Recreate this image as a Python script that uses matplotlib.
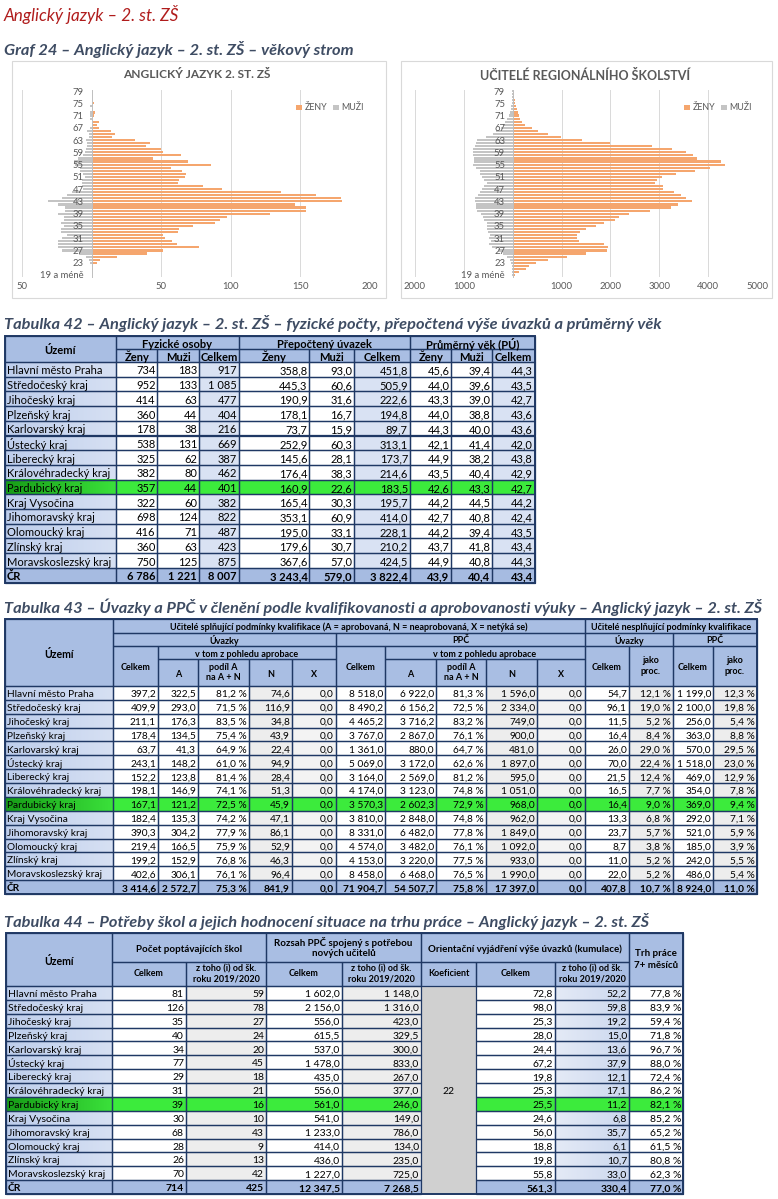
import matplotlib
matplotlib.use('Agg')
import matplotlib.pyplot as plt
from matplotlib.patches import Rectangle, Patch
from matplotlib.colors import to_rgb
import numpy as np

plt.rcParams['font.family'] = ['Lato', 'DejaVu Sans']

# ---------------- DATA ----------------
age_labels = ["19 a méně", "20", "21", "22", "23", "24", "25", "26", "27", "28", "29",
              "30", "31", "32", "33", "34", "35", "36", "37", "38", "39",
              "40", "41", "42", "43", "44", "45", "46", "47", "48", "49",
              "50", "51", "52", "53", "54", "55", "56", "57", "58", "59",
              "60", "61", "62", "63", "64", "65", "66", "67", "68", "69",
              "70", "71", "72", "73", "74", "75", "76", "77", "78", "79"]

aj_zeny = [0, 0, 1, 1, 4, 6, 18, 40, 51, 77, 61,
           58, 53, 51, 62, 63, 73, 89, 92, 97, 128,
           154, 154, 146, 180, 179, 161, 136, 94, 80, 62,
           63, 67, 68, 65, 57, 86, 69, 44, 64, 51,
           50, 39, 42, 31, 15, 17, 14, 5.5, 4, 5,
           1, 2, 2.5, 1, 1, 1.5, 0, 0, 0.5, 0.5]
aj_muzi = [0, 0, 0, 0, 1, 2, 4, 9, 21, 24, 24,
           24, 21, 18, 22, 22, 20, 22, 20, 20, 24,
           19, 19, 24, 31, 21, 18, 14, 6, 7, 7,
           7, 5, 6, 8, 8, 12, 13, 10, 6, 5,
           4, 3, 3, 4, 2, 2, 3, 1, 0, 0,
           1, 1, 1, 0, 1, 0, 0, 0, 0, 0]

rs_zeny = [55, 120, 270, 340, 480, 730, 1110, 1490, 1920, 1950, 1860,
           1350, 1320, 1320, 1380, 1490, 1710, 1860, 2100, 2180, 2390,
           2810, 3230, 3380, 3660, 3540, 3440, 3310, 3080, 3080, 2920,
           2960, 3060, 3340, 3730, 4040, 4340, 4260, 3780, 3700, 3540,
           3250, 2860, 2000, 1420, 990, 730, 520, 390, 250, 190,
           150, 120, 100, 80, 70, 55, 50, 30, 20, 10]
rs_muzi = [5, 5, 5, 15, 35, 55, 120, 200, 300, 420, 490,
           450, 480, 470, 510, 520, 520, 530, 590, 600, 640,
           730, 750, 750, 770, 770, 710, 670, 620, 580, 530,
           580, 620, 660, 670, 760, 810, 790, 790, 810, 810,
           810, 770, 750, 730, 550, 400, 340, 230, 190, 150,
           110, 75, 55, 40, 30, 20, 15, 10, 5, 5]

regions = ["Hlavní město Praha", "Středočeský kraj", "Jihočeský kraj", "Plzeňský kraj",
           "Karlovarský kraj", "Ústecký kraj", "Liberecký kraj", "Královéhradecký kraj",
           "Pardubický kraj", "Kraj Vysočina", "Jihomoravský kraj", "Olomoucký kraj",
           "Zlínský kraj", "Moravskoslezský kraj", "ČR"]
highlight = "Pardubický kraj"

# Tabulka 42
fyz_zeny = [734, 952, 414, 360, 178, 538, 325, 382, 357, 322, 698, 416, 360, 750, 6786]
fyz_muzi = [183, 133, 63, 44, 38, 131, 62, 80, 44, 60, 124, 71, 63, 125, 1221]
fyz_celkem = [917, 1085, 477, 404, 216, 669, 387, 462, 401, 382, 822, 487, 423, 875, 8007]
pu_zeny = [358.8, 445.3, 190.9, 178.1, 73.7, 252.9, 145.6, 176.4, 160.9, 165.4, 353.1, 195.0, 179.6, 367.6, 3243.4]
pu_muzi = [93.0, 60.6, 31.6, 16.7, 15.9, 60.3, 28.1, 38.3, 22.6, 30.3, 60.9, 33.1, 30.7, 57.0, 579.0]
pu_celkem = [451.8, 505.9, 222.6, 194.8, 89.7, 313.1, 173.7, 214.6, 183.5, 195.7, 414.0, 228.1, 210.2, 424.5, 3822.4]
vek_zeny = [45.6, 44.0, 43.3, 44.0, 44.3, 42.1, 44.9, 43.5, 42.6, 44.2, 42.7, 44.2, 43.7, 44.9, 43.9]
vek_muzi = [39.4, 39.6, 39.0, 38.8, 40.0, 41.4, 38.2, 40.4, 43.3, 44.5, 40.8, 39.4, 41.8, 40.8, 40.4]
vek_celkem = [44.3, 43.5, 42.7, 43.6, 43.6, 42.0, 43.8, 42.9, 42.7, 44.2, 42.4, 43.5, 43.4, 44.3, 43.4]

# Tabulka 43
uv_celkem = [397.2, 409.9, 211.1, 178.4, 63.7, 243.1, 152.2, 198.1, 167.1, 182.4, 390.3, 219.4, 199.2, 402.6, 3414.6]
uv_a = [322.5, 293.0, 176.3, 134.5, 41.3, 148.2, 123.8, 146.9, 121.2, 135.3, 304.2, 166.5, 152.9, 306.1, 2572.7]
uv_podil = [81.2, 71.5, 83.5, 75.4, 64.9, 61.0, 81.4, 74.1, 72.5, 74.2, 77.9, 75.9, 76.8, 76.1, 75.3]
uv_n = [74.6, 116.9, 34.8, 43.9, 22.4, 94.9, 28.4, 51.3, 45.9, 47.1, 86.1, 52.9, 46.3, 96.4, 841.9]
uv_x = [0.0, 0.0, 0.0, 0.0, 0.0, 0.0, 0.0, 0.0, 0.0, 0.0, 0.0, 0.0, 0.0, 0.0, 0.0]
ppc_celkem = [8518.0, 8490.2, 4465.2, 3767.0, 1361.0, 5069.0, 3164.0, 4174.0, 3570.3, 3810.0, 8331.0, 4574.0, 4153.0, 8458.0, 71904.7]
ppc_a = [6922.0, 6156.2, 3716.2, 2867.0, 880.0, 3172.0, 2569.0, 3123.0, 2602.3, 2848.0, 6482.0, 3482.0, 3220.0, 6468.0, 54507.7]
ppc_podil = [81.3, 72.5, 83.2, 76.1, 64.7, 62.6, 81.2, 74.8, 72.9, 74.8, 77.8, 76.1, 77.5, 76.5, 75.8]
ppc_n = [1596.0, 2334.0, 749.0, 900.0, 481.0, 1897.0, 595.0, 1051.0, 968.0, 962.0, 1849.0, 1092.0, 933.0, 1990.0, 17397.0]
ppc_x = [0.0, 0.0, 0.0, 0.0, 0.0, 0.0, 0.0, 0.0, 0.0, 0.0, 0.0, 0.0, 0.0, 0.0, 0.0]
nk_uv = [54.7, 96.1, 11.5, 16.4, 26.0, 70.0, 21.5, 16.5, 16.4, 13.3, 23.7, 8.7, 11.0, 22.0, 407.8]
nk_uv_proc = [12.1, 19.0, 5.2, 8.4, 29.0, 22.4, 12.4, 7.7, 9.0, 6.8, 5.7, 3.8, 5.2, 5.2, 10.7]
nk_ppc = [1199.0, 2100.0, 256.0, 363.0, 570.0, 1518.0, 469.0, 354.0, 369.0, 292.0, 521.0, 185.0, 242.0, 486.0, 8924.0]
nk_ppc_proc = [12.3, 19.8, 5.4, 8.8, 29.5, 23.0, 12.9, 7.8, 9.4, 7.1, 5.9, 3.9, 5.5, 5.4, 11.0]

# Tabulka 44
skoly = [81, 126, 35, 40, 34, 77, 29, 31, 39, 30, 68, 28, 26, 70, 714]
skoly_od = [59, 78, 27, 24, 20, 45, 18, 21, 16, 10, 43, 9, 13, 42, 425]
ppc_potr = [1602.0, 2156.0, 556.0, 615.5, 537.0, 1478.0, 435.0, 556.0, 561.0, 541.0, 1233.0, 414.0, 436.0, 1227.0, 12347.5]
ppc_potr_od = [1148.0, 1316.0, 423.0, 329.5, 300.0, 833.0, 267.0, 377.0, 246.0, 149.0, 786.0, 134.0, 235.0, 725.0, 7268.5]
koeficient = 22
uv_kum = [72.8, 98.0, 25.3, 28.0, 24.4, 67.2, 19.8, 25.3, 25.5, 24.6, 56.0, 18.8, 19.8, 55.8, 561.3]
uv_kum_od = [52.2, 59.8, 19.2, 15.0, 13.6, 37.9, 12.1, 17.1, 11.2, 6.8, 35.7, 6.1, 10.7, 33.0, 330.4]
trh_prace = [77.8, 83.9, 59.4, 71.8, 96.7, 88.0, 72.4, 86.2, 82.1, 85.2, 65.2, 61.5, 80.8, 62.3, 77.0]

# ---------------- STYLE ----------------
W, H = 778, 1199
ORANGE = '#F5A66E'
GREY_BAR = '#C4C4C4'
NAVY = '#1F3864'
HDR = '#A9BEE3'
TOTAL = '#A6BBE1'
REG = ('#BECEEC', '#D6E0F3')
CELK = '#D9E2F3'
LGREY = '#EDEDED'
KOEF = '#D0D0D0'
GREEN = '#3CEB3C'
GREEN_REG = ('#179E17', '#3AE03A')
TITLE_C = '#3E4C63'
TXT_GREY = '#595959'

fig = plt.figure(figsize=(W / 100, H / 100), dpi=100)
page = fig.add_axes([0, 0, 1, 1])
page.set_xlim(0, W)
page.set_ylim(H, 0)
page.axis('off')


def fmt(v, d):
    s = f"{v:,.{d}f}"
    return s.replace(',', ' ').replace('.', ',')


def pct(v):
    return fmt(v, 1) + ' %'


def grad_rect(x0, x1, y0, y1, c0, c1, z=1):
    a = np.array(to_rgb(c0))
    b = np.array(to_rgb(c1))
    t = np.linspace(0, 1, 32)[None, :, None]
    img = a[None, None, :] * (1 - t) + b[None, None, :] * t
    page.imshow(img, extent=(x0, x1, y1, y0), aspect='auto',
                interpolation='bilinear', zorder=z)


def cell(x0, x1, y0, y1, text='', fc='white', ha='right', bold=False, fs=7.0,
         border=True, lw=0.9, color='black', ls=1.0, multi=False):
    if isinstance(fc, tuple):
        grad_rect(x0, x1, y0, y1, fc[0], fc[1])
    elif fc is not None:
        page.add_patch(Rectangle((x0, y0), x1 - x0, y1 - y0, facecolor=fc,
                                 edgecolor='none', zorder=1))
    if border:
        page.add_patch(Rectangle((x0, y0), x1 - x0, y1 - y0, fill=False,
                                 edgecolor=NAVY, lw=lw, zorder=2))
    if text != '':
        if ha == 'right':
            tx = x1 - 2
        elif ha == 'left':
            tx = x0 + 2
        else:
            tx = (x0 + x1) / 2
        page.text(tx, (y0 + y1) / 2 + (0 if multi else 0.6), text, ha=ha,
                  va='center' if multi else 'center_baseline', fontsize=fs,
                  fontweight='bold' if bold else 'normal', color=color,
                  zorder=3, linespacing=ls)


def outer(x0, x1, y0, y1):
    page.add_patch(Rectangle((x0, y0), x1 - x0, y1 - y0, fill=False,
                             edgecolor=NAVY, lw=1.4, zorder=2.5))


# ---------------- PAGE TITLES ----------------
page.text(4, 15, "Anglický jazyk – 2. st. ZŠ", fontsize=12.3, style='italic',
          color='#B01C1C', va='center', ha='left')
page.text(4, 50, "Graf 24 – Anglický jazyk – 2. st. ZŠ – věkový strom", fontsize=11.8,
          style='italic', fontweight='bold', color=TITLE_C, va='center', ha='left')


# ---------------- PYRAMIDS ----------------
def pyramid(frame, plot_x, title, title_x, title_fs, zeny, muzi, xmin, xmax, step, legend_x):
    fx0, fx1 = frame
    page.add_patch(Rectangle((fx0, 61), fx1 - fx0, 237, fill=False,
                             edgecolor='#D9D9D9', lw=0.8, zorder=1))
    page.text(title_x, 75, title, ha='center', va='center', fontsize=title_fs,
              fontweight='bold', color=TXT_GREY, zorder=3)
    px0, px1 = plot_x
    ytop, ybot = 89.5, 276.5
    ax = fig.add_axes([px0 / W, 1 - ybot / H, (px1 - px0) / W, (ybot - ytop) / H])
    ax.patch.set_alpha(0)
    y = np.arange(len(zeny))
    ticks = np.arange(xmin, xmax + step / 2, step)
    for t in ticks:
        if t != 0:
            ax.axvline(t, color='#D9D9D9', lw=0.7, zorder=0.5)
    ax.barh(y, zeny, height=0.7, color=ORANGE, zorder=1, label='ŽENY')
    ax.barh(y, -np.array(muzi), height=0.7, color=GREY_BAR, zorder=1, label='MUŽI')
    ax.set_xlim(xmin, xmax)
    ax.set_ylim(-0.5, len(zeny) - 0.5)
    ax.set_xticks(ticks)
    ax.set_xticklabels(['' if t == 0 else str(int(abs(t))) for t in ticks])
    for s in ['top', 'right', 'bottom']:
        ax.spines[s].set_visible(False)
    ax.spines['left'].set_position(('data', 0))
    ax.spines['left'].set_color('#BFBFBF')
    ax.spines['left'].set_linewidth(0.7)
    ax.set_yticks(y[::4])
    ax.set_yticklabels(age_labels[::4])
    ax.tick_params(axis='y', length=0, pad=5.5, labelsize=6.8, labelcolor=TXT_GREY)
    ax.tick_params(axis='x', length=0, pad=4, labelsize=6.8, labelcolor=TXT_GREY)
    handles = [Patch(facecolor=ORANGE, label='ŽENY'), Patch(facecolor=GREY_BAR, label='MUŽI')]
    fig.legend(handles=handles, loc='center left',
               bbox_to_anchor=(legend_x / W, 1 - 108 / H), ncol=2, frameon=False,
               fontsize=6.4, handlelength=0.6, handleheight=0.6, handletextpad=0.3,
               columnspacing=0.7, borderpad=0, labelcolor=TXT_GREY)
    return ax


pyramid((12, 386), (22, 370), "ANGLICKÝ JAZYK 2. ST. ZŠ", 197, 8.6, aj_zeny, aj_muzi,
        -50, 200, 50, 292)
pyramid((401, 772), (415, 757), "UČITELÉ REGIONÁLNÍHO ŠKOLSTVÍ", 585, 9.0, rs_zeny, rs_muzi,
        -2000, 5000, 1000, 680)


def table_title(y, text):
    page.text(4, y, text, fontsize=11.8, style='italic', fontweight='bold',
              color=TITLE_C, va='center', ha='left')


# ---------------- TABULKA 42 ----------------
table_title(324, "Tabulka 42 – Anglický jazyk – 2. st. ZŠ – fyzické počty, přepočtená výše úvazků a průměrný věk")
c42 = [5, 116, 157.5, 199, 239, 309.5, 354.5, 410, 451.5, 492.5, 535]
h0, h1, h2 = 336, 349, 362
rh = 14.7
fs42 = 8.0
fh42 = 8.0
cell(c42[0], c42[1], h0, h2, "Území", HDR, 'center', True, fh42)
for name, a, b in [("Fyzické osoby", 1, 4), ("Přepočtený úvazek", 4, 7), ("Průměrný věk (PÚ)", 7, 10)]:
    cell(c42[a], c42[b], h0, h1, name, HDR, 'center', True, fh42)
for k in range(9):
    cell(c42[k + 1], c42[k + 2], h1, h2, ["Ženy", "Muži", "Celkem"][k % 3], HDR, 'center', True, fh42)
cols42 = [(fyz_zeny, 0), (fyz_muzi, 0), (fyz_celkem, 0), (pu_zeny, 1), (pu_muzi, 1),
          (pu_celkem, 1), (vek_zeny, 1), (vek_muzi, 1), (vek_celkem, 1)]
for i, reg in enumerate(regions):
    y0 = h2 + i * rh
    y1 = y0 + rh
    tot = reg == "ČR"
    hl = reg == highlight
    cell(c42[0], c42[1], y0, y1, reg, TOTAL if tot else (GREEN_REG if hl else REG),
         'left', tot, fs42)
    for k, (vals, d) in enumerate(cols42):
        if tot:
            fc = TOTAL
        elif hl:
            fc = GREEN
        else:
            fc = CELK if k % 3 == 2 else 'white'
        cell(c42[k + 1], c42[k + 2], y0, y1, fmt(vals[i], d), fc, 'right', tot, fs42)
outer(c42[0], c42[-1], h0, h2 + len(regions) * rh)

# ---------------- TABULKA 43 ----------------
table_title(607, "Tabulka 43 – Úvazky a PPČ v členění podle kvalifikovanosti a aprobovanosti výuky – Anglický jazyk – 2. st. ZŠ")
c43 = [5, 113, 158, 198, 249, 292, 336, 385, 436, 486, 537, 585, 629, 673, 713, 757]
r43 = [619, 632.5, 646, 659, 686]
rh43 = 13.87
fs43 = 7.3
fh43 = 6.5
cell(c43[0], c43[1], r43[0], r43[4], "Území", HDR, 'center', True, 7.6)
cell(c43[1], c43[11], r43[0], r43[1],
     "Učitelé splňující podmínky kvalifikace (A = aprobovaná, N = neaprobovaná, X = netýká se)",
     HDR, 'center', True, fh43)
cell(c43[11], c43[15], r43[0], r43[1], "Učitelé nesplňující podmínky kvalifikace",
     HDR, 'center', True, fh43)
cell(c43[1], c43[6], r43[1], r43[2], "Úvazky", HDR, 'center', True, fh43)
cell(c43[6], c43[11], r43[1], r43[2], "PPČ", HDR, 'center', True, fh43)
cell(c43[11], c43[13], r43[1], r43[2], "Úvazky", HDR, 'center', True, fh43)
cell(c43[13], c43[15], r43[1], r43[2], "PPČ", HDR, 'center', True, fh43)
for base in (1, 6):
    cell(c43[base], c43[base + 1], r43[2], r43[4], "Celkem", HDR, 'center', True, fh43)
    cell(c43[base + 1], c43[base + 5], r43[2], r43[3], "v tom z pohledu aprobace", HDR, 'center', True, fh43)
    cell(c43[base + 1], c43[base + 2], r43[3], r43[4], "A", HDR, 'center', True, fh43)
    cell(c43[base + 2], c43[base + 3], r43[3], r43[4], "podíl A\nna A + N", HDR, 'center', True, fh43,
         ls=1.2, multi=True)
    cell(c43[base + 3], c43[base + 4], r43[3], r43[4], "N", HDR, 'center', True, fh43)
    cell(c43[base + 4], c43[base + 5], r43[3], r43[4], "X", HDR, 'center', True, fh43)
for base in (11, 13):
    cell(c43[base], c43[base + 1], r43[2], r43[4], "Celkem", HDR, 'center', True, fh43)
    cell(c43[base + 1], c43[base + 2], r43[2], r43[4], "jako\nproc.", HDR, 'center', True, fh43,
         ls=1.3, multi=True)
cols43 = [(uv_celkem, 'n', 'white'), (uv_a, 'n', 'white'), (uv_podil, 'p', 'white'),
          (uv_n, 'n', LGREY), (uv_x, 'n', '#F3F3F3'),
          (ppc_celkem, 'n', 'white'), (ppc_a, 'n', 'white'), (ppc_podil, 'p', 'white'),
          (ppc_n, 'n', LGREY), (ppc_x, 'n', '#F3F3F3'),
          (nk_uv, 'n', 'white'), (nk_uv_proc, 'p', LGREY),
          (nk_ppc, 'n', 'white'), (nk_ppc_proc, 'p', LGREY)]
for i, reg in enumerate(regions):
    y0 = r43[4] + i * rh43
    y1 = y0 + rh43
    tot = reg == "ČR"
    hl = reg == highlight
    cell(c43[0], c43[1], y0, y1, reg, TOTAL if tot else (GREEN_REG if hl else REG),
         'left', tot, fs43)
    for k, (vals, kind, bg) in enumerate(cols43):
        fc = TOTAL if tot else (GREEN if hl else bg)
        txt = pct(vals[i]) if kind == 'p' else fmt(vals[i], 1)
        cell(c43[k + 1], c43[k + 2], y0, y1, txt, fc, 'right', tot, fs43)
outer(c43[0], c43[-1], r43[0], r43[4] + len(regions) * rh43)

# ---------------- TABULKA 44 ----------------
table_title(921, "Tabulka 44 – Potřeby škol a jejich hodnocení situace na trhu práce – Anglický jazyk – 2. st. ZŠ")
c44 = [6, 112, 186, 266, 342, 421, 476, 555, 629, 683]
r44 = [933, 962, 986]
rh44 = 13.87
fs44 = 7.5
fh44 = 7.0
cell(c44[0], c44[1], r44[0], r44[2], "Území", HDR, 'center', True, 7.6)
cell(c44[1], c44[3], r44[0], r44[1], "Počet poptávajících škol", HDR, 'center', True, fh44)
cell(c44[3], c44[5], r44[0], r44[1], "Rozsah PPČ spojený s potřebou\nnových učitelů", HDR, 'center',
     True, fh44, ls=1.25, multi=True)
cell(c44[5], c44[8], r44[0], r44[1], "Orientační vyjádření výše úvazků (kumulace)", HDR, 'center',
     True, fh44)
cell(c44[8], c44[9], r44[0], r44[2], "Trh práce\n7+ měsíců", HDR, 'center', True, fh44,
     ls=1.4, multi=True)
sub44 = ["Celkem", "z toho (i) od šk.\nroku 2019/2020", "Celkem", "z toho (i) od šk.\nroku 2019/2020",
         "Koeficient", "Celkem", "z toho (i) od šk.\nroku 2019/2020"]
for k, s in enumerate(sub44):
    cell(c44[k + 1], c44[k + 2], r44[1], r44[2], s, HDR, 'center', True, 6.5, ls=1.25, multi=True)
cols44 = [(skoly, 0, 'white', 1), (skoly_od, 0, LGREY, 2), (ppc_potr, 1, 'white', 3),
          (ppc_potr_od, 1, LGREY, 4), (uv_kum, 1, 'white', 6),
          (uv_kum_od, 1, ('#E4EAF6', '#CCD8EF'), 7), (trh_prace, 'p', 'white', 8)]
n = len(regions)
cell(c44[5], c44[6], r44[2], r44[2] + n * rh44, str(koeficient), KOEF, 'center', False, fs44,
     border=False)
for i, reg in enumerate(regions):
    y0 = r44[2] + i * rh44
    y1 = y0 + rh44
    tot = reg == "ČR"
    hl = reg == highlight
    cell(c44[0], c44[1], y0, y1, reg, TOTAL if tot else (GREEN_REG if hl else REG),
         'left', tot, fs44)
    for vals, d, bg, col in cols44:
        fc = TOTAL if tot else (GREEN if hl else bg)
        txt = pct(vals[i]) if d == 'p' else fmt(vals[i], d)
        cell(c44[col], c44[col + 1], y0, y1, txt, fc, 'right', tot, fs44)
outer(c44[0], c44[-1], r44[0], r44[2] + n * rh44)

page.set_xlim(0, W)
page.set_ylim(H, 0)
fig.savefig('out.png', dpi=100)
